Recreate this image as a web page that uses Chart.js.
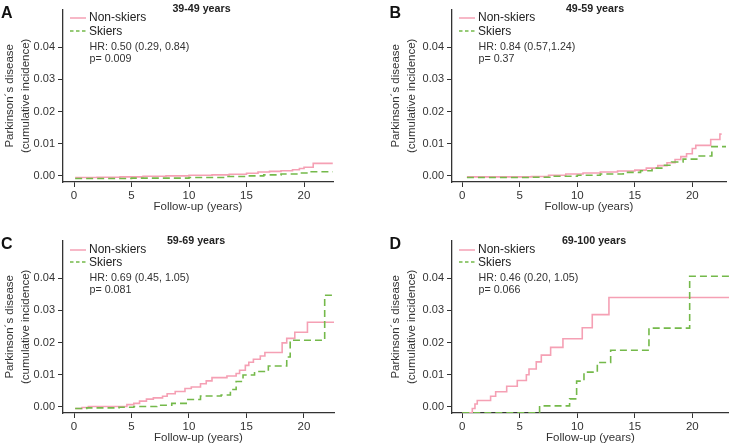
<!DOCTYPE html>
<html>
<head>
<meta charset="utf-8">
<script src="https://cdn.jsdelivr.net/npm/chart.js@4/dist/chart.umd.min.js"></script>
<style>
    body { margin: 0; background: #fff; }
    #wrap { position: relative; width: 729px; height: 445px; overflow: hidden; font-family: "Liberation Sans", Arial, sans-serif; color: #222; }
    #wrap canvas { position: absolute; }
    .lbl { position: absolute; white-space: nowrap; line-height: 1; }
    .letter { font-size: 16px; font-weight: bold; color: #111; }
    .ptitle { font-size: 10.7px; font-weight: bold; transform: translateX(-50%); }
    .leg { font-size: 12px; }
    .stat { font-size: 10.7px; color: #333; }
    svg.key { position: absolute; }
</style>
</head>
<body>
<div id="wrap"></div>
<script>
// Axis ticks shared by all panels
const xTicks = [0, 5, 10, 15, 20];
const yTicks = [0, 0.01, 0.02, 0.03, 0.04];

// Panel A: 39-49 years
const aNonT = [0.1, 2, 4, 6, 8, 10, 12, 13.5, 15, 16, 17, 18, 19, 19.6, 20, 20.8, 22.5];
const aNonV = [-0.0005, -0.0004, -0.0003, -0.0001, 0.0, 0.0002, 0.0003, 0.0005, 0.0008, 0.0012, 0.0014, 0.0016, 0.0019, 0.0023, 0.0027, 0.0039, 0.0039];
const aSkiT = [0.1, 5, 10, 13, 15, 16.5, 18, 19.5, 20.5, 22.5];
const aSkiV = [-0.0008, -0.0007, -0.0005, -0.0002, 0.0, 0.0003, 0.0006, 0.0009, 0.0013, 0.0013];

// Panel B: 49-59 years
const bNonT = [0.4, 3, 6, 7.5, 9, 10.5, 12, 13.5, 15, 16, 17, 17.8, 18.5, 19, 19.5, 20, 20.3, 21.6, 22.4, 22.55];
const bNonV = [-0.0003, -0.0003, -0.0002, 0.0002, 0.0006, 0.0009, 0.0012, 0.0015, 0.0018, 0.0024, 0.0032, 0.0041, 0.0051, 0.006, 0.0069, 0.0085, 0.0095, 0.0113, 0.013, 0.013];
const bSkiT = [0.4, 3, 6, 8, 10, 12, 14, 15.5, 16.5, 17.5, 18.2, 19.2, 20.5, 21.7, 22.95];
const bSkiV = [-0.0005, -0.0005, -0.0004, -0.0001, 0.0002, 0.0006, 0.0011, 0.0016, 0.0024, 0.0033, 0.0043, 0.0052, 0.0062, 0.0091, 0.0091];

// Panel C: 59-69 years
const cNonT = [0.1, 0.7, 1.25, 4.6, 5.2, 5.7, 6.3, 6.9, 7.7, 8.1, 8.8, 9.65, 10.2, 11, 11.5, 12, 13.3, 14.1, 14.4, 14.9, 15.2, 15.6, 16.2, 16.6, 18.1, 18.5, 19.2, 20.3, 22.8];
const cNonV = [-0.0005, -0.0002, 0.0001, 0.0007, 0.0011, 0.0018, 0.0024, 0.0028, 0.0033, 0.0041, 0.0048, 0.0057, 0.0062, 0.0072, 0.0081, 0.0091, 0.0096, 0.0104, 0.0114, 0.0129, 0.0139, 0.0148, 0.0158, 0.0169, 0.0199, 0.0213, 0.0232, 0.0263, 0.0263];
const cSkiT = [0.1, 1.1, 3.9, 5.2, 7.2, 8.5, 9.9, 11, 12.8, 13.6, 14.1, 14.7, 15.7, 16.9, 18.5, 18.8, 21.8, 22.6];
const cSkiV = [-0.0005, -0.0003, -0.0001, 0.0001, 0.0005, 0.0011, 0.0023, 0.0034, 0.0037, 0.0054, 0.0079, 0.0099, 0.011, 0.0127, 0.0155, 0.0207, 0.0347, 0.0347];

// Panel D: 69-100 years
const dNonT = [0, 0.87, 1.1, 1.3, 2.46, 2.9, 3.86, 4.78, 5.57, 5.8, 6.43, 6.87, 7.68, 8.75, 10.43, 11.3, 12.75, 23.2];
const dNonV = [-0.0018, -0.0005, 0.0009, 0.002, 0.0033, 0.0047, 0.0064, 0.0082, 0.01, 0.0118, 0.014, 0.0161, 0.0185, 0.0212, 0.0246, 0.0287, 0.034, 0.034];
const dSkiT = [0, 6.72, 9.33, 9.94, 10.58, 11.74, 12.9, 16.23, 19.77, 23.2];
const dSkiV = [-0.0018, 0.0003, 0.0025, 0.008, 0.0108, 0.0138, 0.0176, 0.0245, 0.0406, 0.0406];

const seriesNames = ['Non-skiers', 'Skiers'];
const pink = '#f5a0b4';
const green = '#74b94a';
const axisColor = '#333';

const panels = [
    { letter: 'A', title: '39-49 years', hr: 'HR: 0.50 (0.29, 0.84)', p: 'p= 0.009',
      left: 0, top: 0, width: 364, yw: 63, xMin: -0.957, xMax: 22.52, padR: 31, titleX: 201.5,
      nonT: aNonT, nonV: aNonV, skiT: aSkiT, skiV: aSkiV },
    { letter: 'B', title: '49-59 years', hr: 'HR: 0.84 (0.57,1.24)', p: 'p= 0.37',
      left: 387, top: 0, width: 342, yw: 65, xMin: -0.896, xMax: 22.93, padR: 3, titleX: 595,
      nonT: bNonT, nonV: bNonV, skiT: bSkiT, skiV: bSkiV },
    { letter: 'C', title: '59-69 years', hr: 'HR: 0.69 (0.45, 1.05)', p: 'p= 0.081',
      left: 0, top: 231, width: 364, yw: 63, xMin: -0.957, xMax: 22.61, padR: 30, titleX: 196,
      nonT: cNonT, nonV: cNonV, skiT: cSkiT, skiV: cSkiV },
    { letter: 'D', title: '69-100 years', hr: 'HR: 0.46 (0.20, 1.05)', p: 'p= 0.066',
      left: 387, top: 231, width: 342, yw: 65, xMin: -0.896, xMax: 23.19, padR: 0, titleX: 594,
      nonT: dNonT, nonV: dNonV, skiT: dSkiT, skiV: dSkiV }
];

const wrap = document.getElementById('wrap');

function addLabel(cls, text, x, y) {
    const el = document.createElement('div');
    el.className = 'lbl ' + cls;
    el.textContent = text;
    el.style.left = x + 'px';
    el.style.top = y + 'px';
    wrap.appendChild(el);
}

function addKey(x, y, color, dash) {
    const ns = 'http://www.w3.org/2000/svg';
    const svg = document.createElementNS(ns, 'svg');
    svg.setAttribute('class', 'key');
    svg.setAttribute('width', 18);
    svg.setAttribute('height', 4);
    svg.style.left = x + 'px';
    svg.style.top = (y - 2) + 'px';
    const line = document.createElementNS(ns, 'line');
    line.setAttribute('x1', 0); line.setAttribute('x2', 16);
    line.setAttribute('y1', 2); line.setAttribute('y2', 2);
    line.setAttribute('stroke', color);
    line.setAttribute('stroke-width', 1.5);
    if (dash) line.setAttribute('stroke-dasharray', '3.5 2.5');
    svg.appendChild(line);
    wrap.appendChild(svg);
}

function toPoints(ts, vs) {
    return ts.map((t, i) => ({ x: t, y: vs[i] }));
}

function makePanel(p) {
    const canvas = document.createElement('canvas');
    canvas.width = p.width;
    canvas.height = 222;
    canvas.style.left = p.left + 'px';
    canvas.style.top = p.top + 'px';
    wrap.appendChild(canvas);

    new Chart(canvas.getContext('2d'), {
        type: 'line',
        data: {
            datasets: [
                {
                    label: seriesNames[0],
                    data: toPoints(p.nonT, p.nonV),
                    borderColor: pink,
                    borderWidth: 1.6,
                    stepped: 'before',
                    pointRadius: 0,
                    fill: false,
                    order: 1
                },
                {
                    label: seriesNames[1],
                    data: toPoints(p.skiT, p.skiV),
                    borderColor: green,
                    borderWidth: 1.6,
                    borderDash: [7, 4],
                    stepped: 'before',
                    pointRadius: 0,
                    fill: false,
                    order: 0
                }
            ]
        },
        options: {
            responsive: false,
            animation: false,
            layout: { padding: { top: 5, right: p.padR, left: 0, bottom: 0 } },
            plugins: { legend: { display: false }, tooltip: { enabled: false } },
            scales: {
                x: {
                    type: 'linear',
                    min: p.xMin,
                    max: p.xMax,
                    afterBuildTicks: axis => { axis.ticks = xTicks.map(v => ({ value: v })); },
                    afterFit: axis => { axis.height = 40; },
                    grid: { drawOnChartArea: false, drawTicks: true, tickLength: 5, color: axisColor, lineWidth: 1 },
                    border: { display: true, color: axisColor, width: 1.3 },
                    ticks: {
                        color: '#333',
                        font: { family: '"Liberation Sans", Arial, sans-serif', size: 11.5 },
                        padding: 2,
                        maxRotation: 0,
                        callback: v => v
                    },
                    title: {
                        display: true,
                        text: 'Follow-up (years)',
                        color: '#333',
                        font: { family: '"Liberation Sans", Arial, sans-serif', size: 11.5 },
                        padding: { top: 0, bottom: 8 }
                    }
                },
                y: {
                    type: 'linear',
                    min: -0.0019,
                    max: 0.0517,
                    afterBuildTicks: axis => { axis.ticks = yTicks.map(v => ({ value: v })); },
                    afterFit: axis => { axis.width = p.yw; },
                    grid: { drawOnChartArea: false, drawTicks: true, tickLength: 5, color: axisColor, lineWidth: 1 },
                    border: { display: true, color: axisColor, width: 1.3 },
                    ticks: {
                        color: '#333',
                        font: { family: '"Liberation Sans", Arial, sans-serif', size: 11 },
                        padding: 3,
                        callback: v => v.toFixed(2)
                    },
                    title: {
                        display: true,
                        text: ['Parkinson\u00b4s disease', '(cumulative incidence)'],
                        color: '#333',
                        font: { family: '"Liberation Sans", Arial, sans-serif', size: 11.5, lineHeight: 1.4 },
                        padding: { top: p.yw === 63 ? 2 : 0.5, bottom: 0 }
                    }
                }
            }
        }
    });

    // Overlay texts: panel letter, age group title, legend and HR
    const axisX = p.left + p.yw;
    const dy = p.top === 0 ? 0 : 231.5;
    addLabel('letter', p.letter, p.left + (p.left === 0 ? 1 : 2.5), p.top + 5);
    addLabel('ptitle', p.title, p.titleX, p.top + (p.top === 0 ? 2.5 : 4));
    addKey(axisX + 7, 18.3 + dy, pink, false);
    addKey(axisX + 7, 30.8 + dy, green, true);
    addLabel('leg', seriesNames[0], axisX + 26, 11 + dy);
    addLabel('leg', seriesNames[1], axisX + 26, 24.5 + dy);
    addLabel('stat', p.hr, axisX + 26.5, 40.5 + dy);
    addLabel('stat', p.p, axisX + 26.5, 52.5 + dy);
}

panels.forEach(makePanel);
</script>
</body>
</html>
